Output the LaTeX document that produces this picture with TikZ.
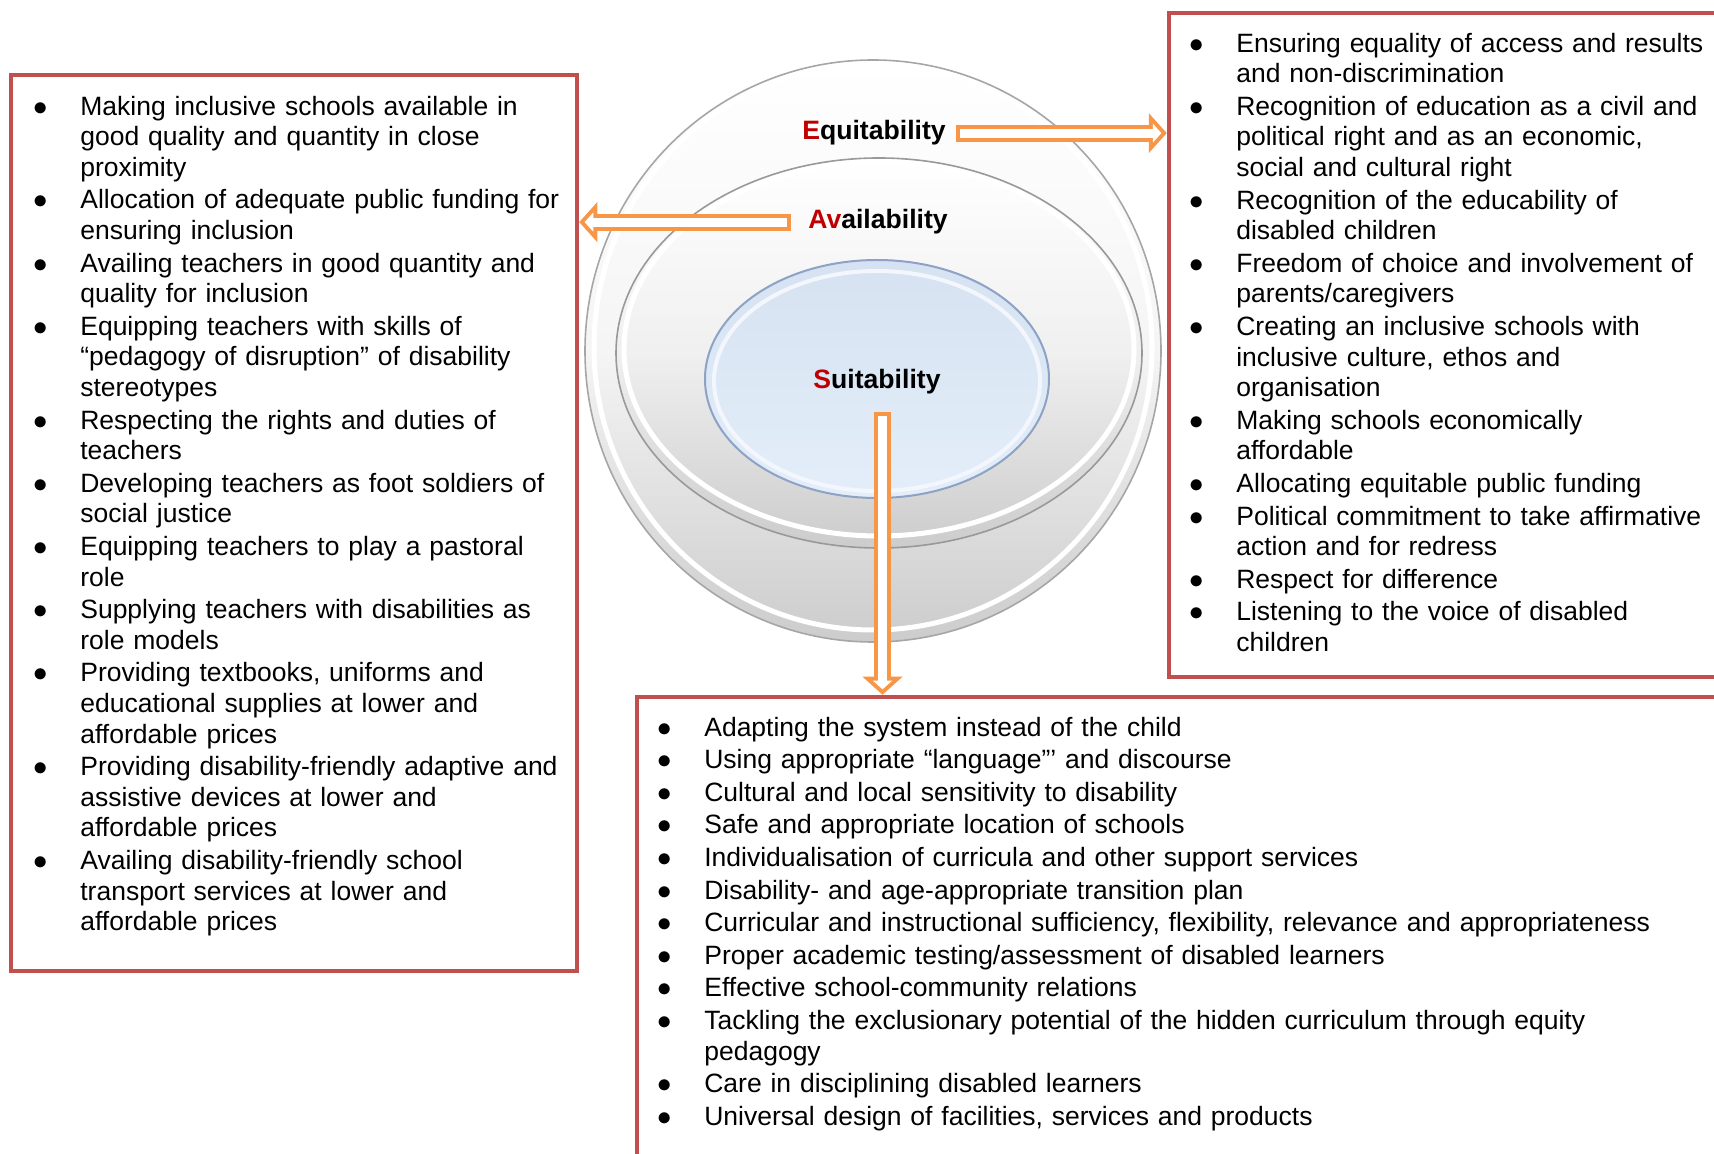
\documentclass[tikz,border=0pt]{standalone}
\usepackage{fontspec}
\setmainfont{Liberation Sans}
\usetikzlibrary{arrows.meta,fit}
\definecolor{framered}{HTML}{C0504D}
\definecolor{arroworange}{HTML}{F79646}
\definecolor{initred}{HTML}{C00000}
\definecolor{coreblue}{HTML}{E4EEFA}
\definecolor{coretop}{HTML}{D6E2F1}
\definecolor{corerim}{HTML}{8DA2C5}
% one bullet point of a list
\newcommand{\bul}{\par\noindent\strut\llap{\makebox[23.5pt][l]{$\bullet$}}}

\begin{document}
\begin{tikzpicture}[x=0.5pt,y=-0.5pt,
listbox/.style={
% The frame:
rectangle,
draw=framered,
line width=2.25pt,
inner sep=0pt
},
list/.style={
anchor=north west,
inner sep=0pt,
align=left,
font=\fontsize{13.25}{15.3}\selectfont
},
ringname/.style={
anchor=base,
inner sep=0pt,
font=\bfseries\fontsize{13.3}{15.3}\selectfont
},
hollow/.style={
draw=arroworange,
line width=8.5pt,
-{Triangle[width=20pt,length=9pt,line width=0pt]},
postaction={draw=white,line width=4.5pt,shorten <=2pt,shorten >=2.7pt,
-{Triangle[width=9.6pt,length=4.3pt,line width=0pt]}}
}
]
\useasboundingbox (0,0) rectangle (1714,1154);
% the three stacked discs
\shadedraw[top color=white,bottom color=black!20,middle color=black!4,draw=black!35,line width=0.8pt]
  (873,351) ellipse [x radius=288,y radius=291];
\draw[white,line width=2.5pt] (873,347) ellipse [x radius=279,y radius=283];
\shadedraw[top color=white,bottom color=black!20,middle color=black!6,draw=black!40,line width=0.8pt]
  (879,353) ellipse [x radius=263,y radius=195];
\draw[white,line width=2.5pt] (879,349) ellipse [x radius=255,y radius=187];
\shadedraw[top color=coretop,bottom color=coreblue,draw=corerim,line width=1pt]
  (877,379) ellipse [x radius=172,y radius=119];
\draw[white!55!coreblue,line width=2pt] (877,381) ellipse [x radius=163,y radius=110];
% ring names
\node[ringname] (equi) at (874,140) {{\color{initred}E}quitability};
\node[ringname] (avail) at (878,229) {{\color{initred}Av}ailability};
\node[ringname] (suit) at (877,389) {{\color{initred}S}uitability};
% boxes
\node[listbox,fit={(11,75) (577,971)}] (lbox) {};
\node[listbox,fit={(1169,13) (1750,677)}] (rbox) {};
\node[listbox,fit={(637,697) (1750,1180)}] (bbox) {};
% arrows
\coordinate (equiout) at ([xshift=5pt]equi.east);
\coordinate (availout) at ([xshift=-8.5pt]avail.west);
\coordinate (suitout) at ([xshift=2.75pt,yshift=-8.7pt]suit.south);
\draw[hollow] (equiout) -- (equiout -| rbox.west);
\draw[hollow] (availout) -- (availout -| lbox.east);
\draw[hollow] (suitout) -- (suitout |- bbox.north);
% Availability list
\node[list,text width=290pt] (ltext) at ([xshift=12.1pt,yshift=-4.7pt]lbox.north west) {\leftskip=23.5pt\parskip=1pt
\bul Making inclusive schools available in\\ good quality and quantity in close\\ proximity
\bul Allocation of adequate public funding for\\ ensuring inclusion
\bul Availing teachers in good quantity and\\ quality for inclusion
\bul Equipping teachers with skills of\\ “pedagogy of disruption” of disability\\ stereotypes
\bul Respecting the rights and duties of\\ teachers
\bul Developing teachers as foot soldiers of\\ social justice
\bul Equipping teachers to play a pastoral\\ role
\bul Supplying teachers with disabilities as\\ role models
\bul Providing textbooks, uniforms and\\ educational supplies at lower and\\ affordable prices
\bul Providing disability-friendly adaptive and\\ assistive devices at lower and\\ affordable prices
\bul Availing disability-friendly school\\ transport services at lower and\\ affordable prices\par};
% Equitability list
\node[list,text width=290pt] (rtext) at ([xshift=11.1pt,yshift=-4.2pt]rbox.north west) {\leftskip=23.5pt\parskip=1pt
\bul Ensuring equality of access and results\\ and non-discrimination
\bul Recognition of education as a civil and\\ political right and as an economic,\\ social and cultural right
\bul Recognition of the educability of\\ disabled children
\bul Freedom of choice and involvement of\\ parents/caregivers
\bul Creating an inclusive schools with\\ inclusive culture, ethos and\\ organisation
\bul Making schools economically\\ affordable
\bul Allocating equitable public funding
\bul Political commitment to take affirmative\\ action and for redress
\bul Respect for difference
\bul Listening to the voice of disabled\\ children\par};
% Suitability list
\node[list,text width=560pt] (btext) at ([xshift=11.1pt,yshift=-4.2pt]bbox.north west) {\leftskip=23.5pt\parskip=1pt
\bul Adapting the system instead of the child
\bul Using appropriate “language”’ and discourse
\bul Cultural and local sensitivity to disability
\bul Safe and appropriate location of schools
\bul Individualisation of curricula and other support services
\bul Disability- and age-appropriate transition plan
\bul Curricular and instructional sufficiency, flexibility, relevance and appropriateness
\bul Proper academic testing/assessment of disabled learners
\bul Effective school-community relations
\bul Tackling the exclusionary potential of the hidden curriculum through equity\\ pedagogy
\bul Care in disciplining disabled learners
\bul Universal design of facilities, services and products\par};
\end{tikzpicture}
\end{document}
